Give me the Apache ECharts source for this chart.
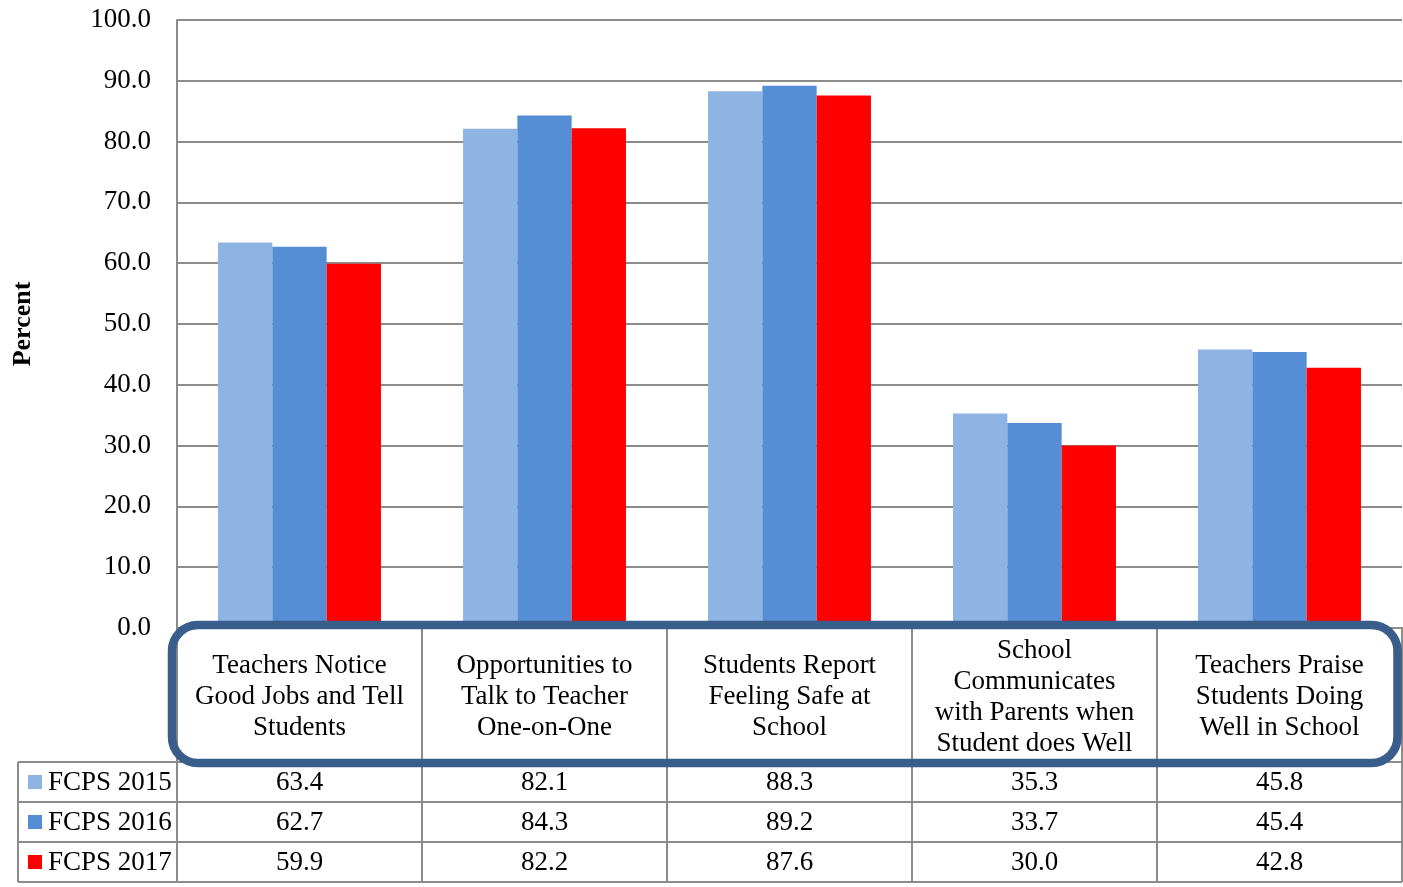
<!DOCTYPE html>
<html>
<head>
<meta charset="utf-8">
<script src="https://cdn.jsdelivr.net/npm/echarts@6/dist/echarts.min.js"></script>
<style>
html,body{margin:0;padding:0;background:#fff;}
#c{width:1403px;height:887px;}
</style>
</head>
<body>
<div id="c"></div>
<script>
var categories = [
  'Teachers Notice\nGood Jobs and Tell\nStudents',
  'Opportunities to\nTalk to Teacher\nOne-on-One',
  'Students Report\nFeeling Safe at\nSchool',
  'School\nCommunicates\nwith Parents when\nStudent does Well',
  'Teachers Praise\nStudents Doing\nWell in School'
];
var seriesNames = ['FCPS 2015', 'FCPS 2016', 'FCPS 2017'];
var fcps2015 = [63.4, 82.1, 88.3, 35.3, 45.8];
var fcps2016 = [62.7, 84.3, 89.2, 33.7, 45.4];
var fcps2017 = [59.9, 82.2, 87.6, 30.0, 42.8];
var colors = ['#8EB4E3', '#558ED5', '#FF0000'];
var yTicks = {min: 0, max: 100, interval: 10};

var FONT = 'Liberation Serif';
var FS = 27;
var GRID_COLOR = '#8C8C8C';
var allSeries = [fcps2015, fcps2016, fcps2017];

var chart = echarts.init(document.getElementById('c'), null, {renderer: 'canvas'});
var option = {
  animation: false,
  backgroundColor: '#fff',
  textStyle: {fontFamily: FONT},
  grid: {left: 177, right: 1, top: 20, bottom: 259, containLabel: false, outerBoundsMode: 'none'},
  xAxis: {
    type: 'category',
    data: categories,
    axisTick: {show: false},
    axisLine: {show: true, lineStyle: {color: GRID_COLOR, width: 2}},
    axisLabel: {
      interval: 0, margin: 69, verticalAlign: 'middle',
      fontFamily: FONT, fontSize: FS, lineHeight: 31, color: '#000'
    }
  },
  yAxis: {
    type: 'value',
    min: yTicks.min, max: yTicks.max, interval: yTicks.interval,
    name: 'Percent',
    nameLocation: 'middle',
    nameGap: 141,
    nameRotate: 90,
    nameTextStyle: {fontFamily: FONT, fontSize: 26, fontWeight: 'bold', color: '#000'},
    axisLine: {show: true, lineStyle: {color: GRID_COLOR, width: 2}},
    axisTick: {show: false},
    splitLine: {show: true, lineStyle: {color: GRID_COLOR, width: 2}},
    axisLabel: {
      margin: 26, fontFamily: FONT, fontSize: FS, color: '#000',
      padding: [4, 0, 0, 0],
      formatter: function (v) { return v.toFixed(1); }
    }
  },
  series: allSeries.map(function (d, i) {
    return {
      name: seriesNames[i], type: 'bar', data: d,
      barGap: '0%', barCategoryGap: '33.5%',
      itemStyle: {color: colors[i]}, z: 3
    };
  })
};
chart.setOption(option);

// Build data table from axis geometry
var c0 = chart.convertToPixel({xAxisIndex: 0}, 0);
var c1 = chart.convertToPixel({xAxisIndex: 0}, 1);
var bw = c1 - c0;
var xLeft = c0 - bw / 2;
var xRight = xLeft + bw * categories.length;
var y0 = chart.convertToPixel({yAxisIndex: 0}, 0);
var headH = 134, rowH = 40;
var tableLeft = 18;
var els = [];
function line(x1, y1, x2, y2) {
  els.push({type: 'line', shape: {x1: x1, y1: y1, x2: x2, y2: y2},
    style: {stroke: GRID_COLOR, lineWidth: 2}, z: 10});
}
for (var r = 0; r <= 3; r++) {
  var yy = y0 + headH + r * rowH;
  line(tableLeft, yy, xRight, yy);
}
for (var k = 0; k <= categories.length; k++) {
  var xx = xLeft + k * bw;
  line(xx, y0, xx, y0 + headH + 3 * rowH);
}
line(tableLeft, y0 + headH, tableLeft, y0 + headH + 3 * rowH);
for (var s = 0; s < allSeries.length; s++) {
  var cy = y0 + headH + s * rowH + rowH / 2;
  els.push({type: 'rect', shape: {x: 28, y: cy - 7, width: 14, height: 14},
    style: {fill: colors[s]}, z: 11});
  els.push({type: 'text', x: 48, y: cy + 1,
    style: {text: seriesNames[s], font: FS + 'px "' + FONT + '"', fill: '#000',
      textAlign: 'left', textVerticalAlign: 'middle'}, z: 11});
  for (var j = 0; j < categories.length; j++) {
    els.push({type: 'text', x: xLeft + j * bw + bw / 2, y: cy + 1,
      style: {text: allSeries[s][j].toFixed(1), font: FS + 'px "' + FONT + '"', fill: '#000',
        textAlign: 'center', textVerticalAlign: 'middle'}, z: 11});
  }
}
els.push({type: 'rect',
  shape: {x: xLeft - 5, y: y0 - 3, width: (xRight - 4.5) - (xLeft - 5), height: 138, r: 26},
  style: {fill: 'none', stroke: '#3A5E8B', lineWidth: 8.5}, z: 20});
chart.setOption({graphic: {elements: els}});
</script>
</body>
</html>
